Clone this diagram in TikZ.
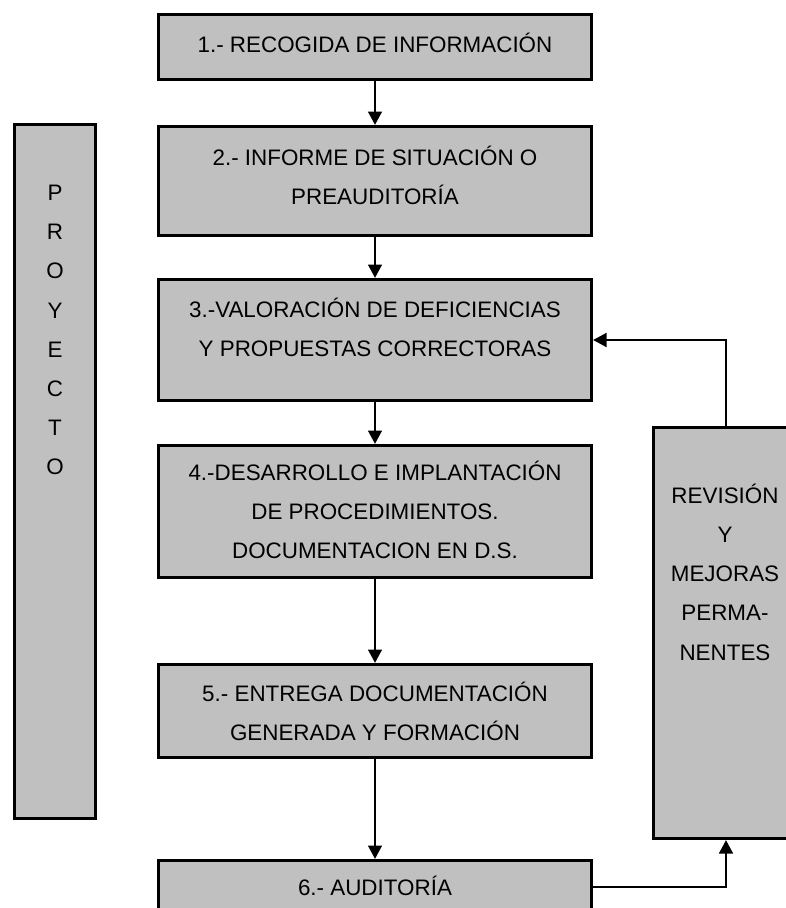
\documentclass[tikz,border=0pt]{standalone}
\usepackage{fontspec}
\setmainfont{Liberation Sans}
\usetikzlibrary{arrows.meta}
\definecolor{boxgray}{RGB}{192,192,192}

\begin{document}
\begin{tikzpicture}[x=0.75pt, y=-0.75pt,
	box/.style={draw, line width=2.5pt, fill=boxgray, inner sep=0pt},
	txt/.style={align=center, inner sep=0pt, font=\fontsize{16.8}{29.4}\selectfont},
	flow/.style={line width=1.1pt, -{Triangle[width=10.5pt,length=10pt]}}]
	\useasboundingbox (0,0) rectangle (786,908);

	\node[box, minimum width=324.75pt, minimum height=48.75pt] (b1) at (375,47) {};
	\node[box, minimum width=324.75pt, minimum height=81.75pt] (b2) at (375,181) {};
	\node[box, minimum width=324.75pt, minimum height=90.75pt] (b3) at (375,340) {};
	\node[box, minimum width=324.75pt, minimum height=99pt] (b4) at (375,511.5) {};
	\node[box, minimum width=324.75pt, minimum height=69.75pt] (b5) at (375,711) {};
	\node[box, minimum width=324.75pt, minimum height=39.75pt] (b6) at (375,887) {};

	\node[box, minimum width=60.75pt, minimum height=520.5pt] (proyecto) at (55,471.5) {};
	\node[box, minimum width=108.75pt, minimum height=308.25pt] (revision) at (726,633) {};

	\node[txt] (t1) at (375,43) {1.- RECOGIDA DE INFORMACIÓN};
	\node[txt] (t2) at (375,175) {2.- INFORME DE SITUACIÓN O\\PREAUDITORÍA};
	\node[txt] (t3) at (375,327) {3.-VALORACIÓN DE DEFICIENCIAS\\Y PROPUESTAS CORRECTORAS};
	\node[txt] (t4) at (375,510) {4.-DESARROLLO E IMPLANTACIÓN\\DE PROCEDIMIENTOS.\\DOCUMENTACION EN D.S.};
	\node[txt] (t5) at (375,711) {5.- ENTREGA DOCUMENTACIÓN\\GENERADA Y FORMACIÓN};
	\node[txt] (t6) at (375,886) {6.- AUDITORÍA};
	\node[txt] (tp) at (55,330) {P\\R\\O\\Y\\E\\C\\T\\O};
	\node[txt] (tr) at (725,572) {REVISIÓN\\Y\\MEJORAS\\PERMA-\\NENTES};

	\draw[flow] (b1) -- (b2);
	\draw[flow] (b2) -- (b3);
	\draw[flow] (b3) -- (b4);
	\draw[flow] (b4) -- (b5);
	\draw[flow] (b5) -- (b6);
	\draw[flow] (b6.east) -| (revision.south);
	\draw[flow] (revision.north) |- (b3.east);

\end{tikzpicture}
\end{document}
